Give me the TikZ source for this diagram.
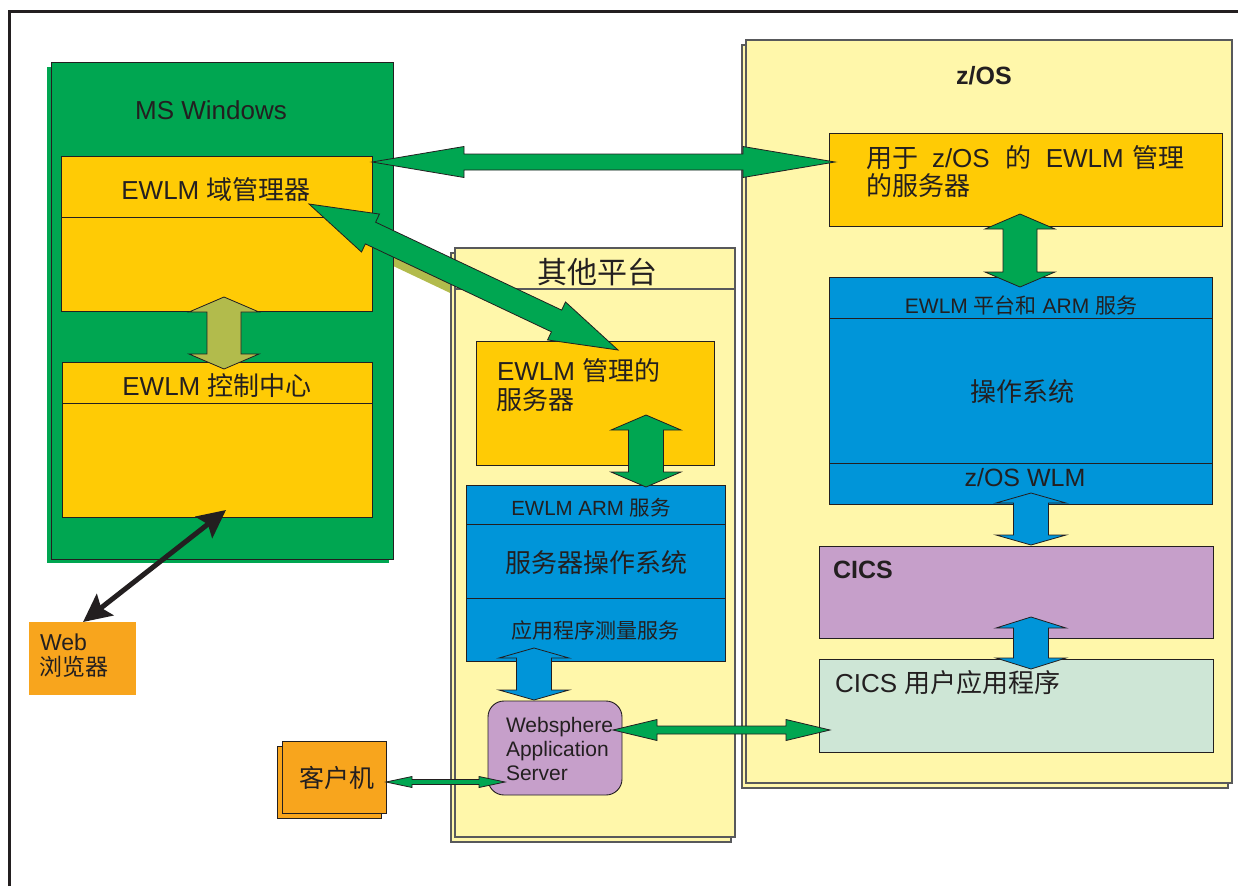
\documentclass[tikz,border=0pt]{standalone}
\usepackage{fontspec}
\setmainfont{Liberation Sans}
\newfontfamily\cjk{Noto Sans CJK SC}
\newcommand\zh[1]{{\cjk #1}}
\newcommand\fsz[1]{\fontsize{#1pt}{#1pt}\selectfont}
\usetikzlibrary{calc,arrows.meta}
\definecolor{cgreen}{HTML}{00A651}
\definecolor{cyellow}{HTML}{FFCB05}
\definecolor{cpanel}{HTML}{FFF7AA}
\definecolor{cblue}{HTML}{0095D9}
\definecolor{cpurple}{HTML}{C69FCA}
\definecolor{corange}{HTML}{F8A51D}
\definecolor{clgreen}{HTML}{CEE6D6}
\definecolor{colive}{HTML}{B2BB4C}
\definecolor{ctext}{HTML}{231F20}
\definecolor{cgray}{HTML}{58595B}
\tikzset{
  box/.style={draw=ctext, line width=0.9pt, anchor=north west, inner sep=0pt, outer sep=0pt},
  panel/.style={draw=cgray, line width=1.2pt, fill=cpanel, anchor=north west, inner sep=0pt, outer sep=0pt},
  txt/.style={text=ctext, inner sep=0pt, outer sep=0pt},
  sepline/.style={draw=ctext, line width=0.9pt},
  blk/.style={draw=ctext, line width=0.8pt, line join=miter},
}
\newcommand\blockarrow[6]{%
  \coordinate (ba1) at ($(#1)!#3!(#2)$);
  \coordinate (ba2) at ($(#2)!#3!(#1)$);
  \filldraw[blk,#6] (#1) -- ($(ba1)!#4!90:(#2)$) -- ($(ba1)!#5!90:(#2)$) -- ($(ba2)!#5!-90:(#1)$) -- ($(ba2)!#4!-90:(#1)$) -- (#2) -- ($(ba2)!#4!90:(#1)$) -- ($(ba2)!#5!90:(#1)$) -- ($(ba1)!#5!-90:(#2)$) -- ($(ba1)!#4!-90:(#2)$) -- cycle;}
\begin{document}
\begin{tikzpicture}[x=1pt,y=-1pt]
\useasboundingbox (0,0) rectangle (1238,886);
\fill[white] (0,0) rectangle (1238,886);
% outer frame
\draw[ctext, line width=3pt] (9,886) -- (9,11.5) -- (1238,11.5);

% olive shadow of the diagonal connector
\coordinate (olA) at (330,225);
\coordinate (olB) at (520,315);
\draw[colive, line width=20pt] (olA) -- (olB);

% ---------- MS Windows ----------
\node[box, draw=none, fill=cgreen, minimum width=342pt, minimum height=496pt] (winback) at (47,67) {};
\node[box, fill=cgreen, minimum width=342pt, minimum height=497pt] (win) at (51,62) {};
\node[txt, font=\fsz{26}] (twin) at (211,110) {MS Windows};
\node[box, fill=cyellow, minimum width=311pt, minimum height=155pt] (dm) at (61,156) {};
\draw[sepline] ([yshift=-61pt]dm.north west) -- ([yshift=-61pt]dm.north east);
\node[txt, font=\fsz{26}] (tdm) at (216,190) {EWLM \zh{域管理器}};
\node[box, fill=cyellow, minimum width=310pt, minimum height=155pt] (cc) at (62,362) {};
\draw[sepline] ([yshift=-41pt]cc.north west) -- ([yshift=-41pt]cc.north east);
\node[txt, font=\fsz{26}] (tcc) at (217,386) {EWLM \zh{控制中心}};

% ---------- Web browser ----------
\node[box, draw=none, fill=corange, minimum width=107pt, minimum height=73pt] (web) at (29,622) {};
\node[txt, font=\fsz{23}, anchor=base west] (tweb1) at (40,650) {Web};
\node[txt, font=\fsz{23}, anchor=base west] (tweb2) at (39,675) {\zh{浏览器}};

% ---------- Client ----------
\node[box, fill=corange, minimum width=104pt, minimum height=72pt] (cliback) at (277,746) {};
\node[box, fill=corange, minimum width=104pt, minimum height=72pt] (cli) at (282,741) {};
\node[txt, font=\fsz{25}] (tcli) at (337,778) {\zh{客户机}};

% ---------- Other platforms ----------
\node[panel, minimum width=280pt, minimum height=589pt] (othback) at (451,253) {};
\node[panel, minimum width=280pt, minimum height=589pt] (oth) at (455,248) {};
\draw[draw=cgray, line width=1.2pt] ([yshift=-41pt]oth.north west) -- ([yshift=-41pt]oth.north east);
\node[txt, font=\fsz{30}] (toth) at (597,272) {\zh{其他平台}};
\node[box, fill=cyellow, minimum width=238pt, minimum height=124pt] (osrv) at (476,341) {};
\node[txt, font=\fsz{26}, anchor=base west] (tosrv1) at (497,380) {EWLM \zh{管理的}};
\node[txt, font=\fsz{26}, anchor=base west] (tosrv2) at (496,409) {\zh{服务器}};
\node[box, fill=cblue, minimum width=259pt, minimum height=176pt] (oarm) at (466,485) {};
\draw[sepline] ([yshift=-39pt]oarm.north west) -- ([yshift=-39pt]oarm.north east);
\draw[sepline] ([yshift=-113pt]oarm.north west) -- ([yshift=-113pt]oarm.north east);
\node[txt, font=\fsz{20.5}] (toarm1) at (591,508) {EWLM ARM \zh{服务}};
\node[txt, font=\fsz{26}] (toarm2) at (596,563) {\zh{服务器操作系统}};
\node[txt, font=\fsz{21}] (toarm3) at (595,630) {\zh{应用程序测量服务}};
\node[box, fill=cpurple, minimum width=134pt, minimum height=94pt, rounded corners=16pt] (was) at (488,701) {};
\node[txt, font=\fsz{21}, anchor=base west] (twas1) at (506,732) {Websphere};
\node[txt, font=\fsz{21}, anchor=base west] (twas2) at (506,756) {Application};
\node[txt, font=\fsz{21}, anchor=base west] (twas3) at (506,780) {Server};

% ---------- z/OS ----------
\node[panel, minimum width=486pt, minimum height=743pt] (zback) at (742,45) {};
\node[panel, minimum width=486pt, minimum height=743pt] (zos) at (746,40) {};
\node[txt, font=\fsz{25}\bfseries] (tzos) at (984,76) {z/OS};
\node[box, fill=cyellow, minimum width=393pt, minimum height=93pt] (zsrv) at (829,133) {};
\node[txt, font=\fsz{26}, anchor=base west] (tzsrv1) at (866,167) {\zh{用于}\hspace{14pt}z/OS\hspace{16pt}\zh{的}\hspace{14pt}EWLM\hspace{9pt}\zh{管理}};
\node[txt, font=\fsz{26}, anchor=base west] (tzsrv2) at (866,195) {\zh{的服务器}};
\node[box, fill=cblue, minimum width=383pt, minimum height=227pt] (zarm) at (829,277) {};
\draw[sepline] ([yshift=-41pt]zarm.north west) -- ([yshift=-41pt]zarm.north east);
\draw[sepline] ([yshift=-186pt]zarm.north west) -- ([yshift=-186pt]zarm.north east);
\node[txt, font=\fsz{21}] (tzarm1) at (1021,305) {EWLM \zh{平台和} ARM \zh{服务}};
\node[txt, font=\fsz{26}] (tzarm2) at (1022,392) {\zh{操作系统}};
\node[txt, font=\fsz{25}] (tzarm3) at (1025,478) {z/OS WLM};
\node[box, fill=cpurple, minimum width=394pt, minimum height=92pt] (cics) at (819,546) {};
\node[txt, font=\fsz{25}\bfseries, anchor=base west] (tcics) at (833,578) {CICS};
\node[box, fill=clgreen, minimum width=394pt, minimum height=93pt] (capp) at (819,659) {};
\node[txt, font=\fsz{26}, anchor=base west] (tcapp) at (835,692) {CICS \zh{用户应用程序}};

% ---------- connectors ----------
% top horizontal: domain manager <-> z/OS managed server
\coordinate (h1a) at ([yshift=-6pt]dm.north east);
\coordinate (h1b) at ([xshift=6pt,yshift=-29pt]zsrv.north west);
\blockarrow{h1a}{h1b}{92pt}{15.5pt}{8pt}{fill=cgreen}
% diagonal: domain manager <-> other managed server
\coordinate (d1a) at ([xshift=-63pt,yshift=-48pt]dm.north east);
\coordinate (d1b) at ([xshift=142pt,yshift=-9pt]osrv.north west);
\blockarrow{d1a}{d1b}{68pt}{21pt}{12pt}{fill=cgreen}
% olive: domain manager <-> control center
\coordinate (o1a) at (224,297);
\coordinate (o1b) at (224,369);
\blockarrow{o1a}{o1b}{15pt}{35pt}{17pt}{fill=colive}
% green: other server <-> ARM
\coordinate (g1a) at (646,415);
\coordinate (g1b) at (646,487);
\blockarrow{g1a}{g1b}{15pt}{35pt}{17.5pt}{fill=cgreen}
% blue: ARM <-> websphere
\coordinate (b1a) at (534,648);
\coordinate (b1b) at (534,700);
\blockarrow{b1a}{b1b}{10pt}{35pt}{17.5pt}{fill=cblue}
% green: z/OS server <-> platform services
\coordinate (g2a) at (1020,214);
\coordinate (g2b) at (1020,287);
\blockarrow{g2a}{g2b}{15pt}{35pt}{17pt}{fill=cgreen}
% blue: WLM <-> CICS
\coordinate (b2a) at (1031,493);
\coordinate (b2b) at (1031,545);
\blockarrow{b2a}{b2b}{10pt}{35pt}{17.5pt}{fill=cblue}
% blue: CICS <-> CICS app
\coordinate (b3a) at (1031,617);
\coordinate (b3b) at (1031,669);
\blockarrow{b3a}{b3b}{11pt}{35pt}{17.5pt}{fill=cblue}
% websphere <-> CICS app
\coordinate (w1a) at ([xshift=-9pt,yshift=-29pt]was.north east);
\coordinate (w1b) at ([xshift=11pt,yshift=-71pt]capp.north west);
\blockarrow{w1a}{w1b}{44pt}{10.5pt}{4pt}{fill=cgreen}
% client <-> websphere
\coordinate (c1a) at ([yshift=-41pt]cli.north east);
\coordinate (c1b) at ([xshift=17pt,yshift=-81pt]was.north west);
\blockarrow{c1a}{c1b}{26pt}{5.5pt}{2.5pt}{fill=cgreen}
% web browser <-> control center
\coordinate (k1a) at ([xshift=54pt]web.north west);
\coordinate (k1b) at ([xshift=164pt,yshift=-148pt]cc.north west);
\draw[ctext, line width=5pt, {Stealth[length=28pt,width=27pt,inset=5pt]}-{Stealth[length=28pt,width=27pt,inset=5pt]}] (k1a) -- (k1b);
\end{tikzpicture}
\end{document}
